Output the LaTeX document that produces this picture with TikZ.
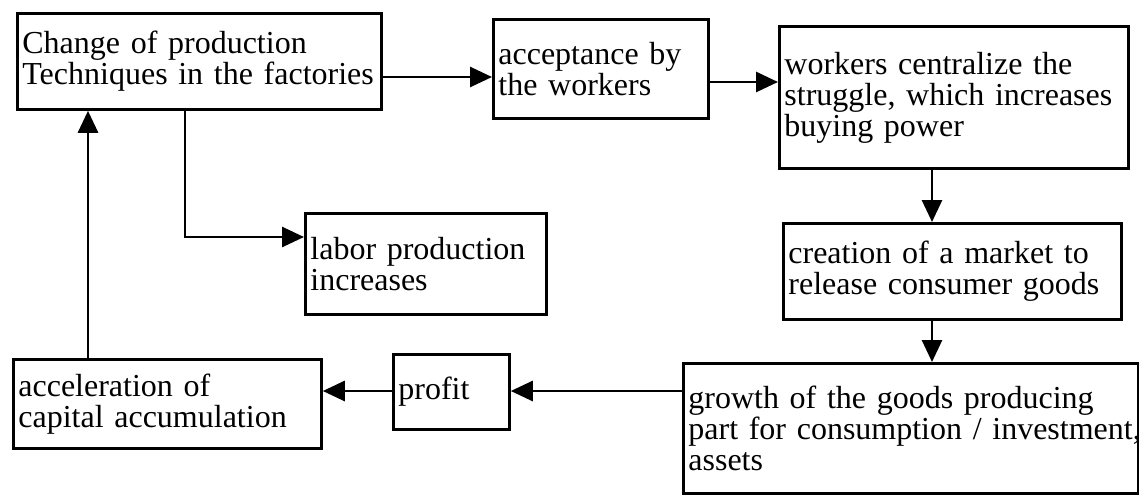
\documentclass[tikz,border=0pt]{standalone}
\usepackage{fontspec}
\setmainfont{Liberation Serif}
\usetikzlibrary{arrows.meta}

\begin{document}
\begin{tikzpicture}[
		x=1pt, y=-1pt,
		every node/.style={draw, rectangle, line width=2.8pt, anchor=north west, align=left, inner xsep=5pt, inner ysep=0pt, font=\fontsize{32}{31}\selectfont},
		arr/.style={line width=2.8pt, -{Triangle[length=22pt,width=20pt]}}
		]
		\useasboundingbox (0,0) rectangle (1139,499);
		\node[text width=354pt, minimum height=96pt] (change) at (16,12) {Change of production\\Techniques in the factories};
		\node[text width=205pt, minimum height=99pt] (accept) at (492,18) {acceptance by\\the workers};
		\node[text width=339pt, minimum height=142pt] (central) at (778,25) {workers centralize the\\struggle, which increases\\buying power};
		\node[text width=328pt, minimum height=96pt] (market) at (782,222) {creation of a market to\\release consumer goods};
		\node[text width=445pt, minimum height=130pt] (growth) at (682,362) {growth of the goods producing\\\mbox{part for consumption / investment,}\\assets};
		\node[text width=231pt, minimum height=101pt] (labor) at (304,212) {labor production\\increases};
		\node[text width=106pt, minimum height=75pt] (profit) at (392,353) {profit};
		\node[text width=298pt, minimum height=89pt] (accel) at (12,358) {acceleration of\\capital accumulation};
		\draw[arr] (change.east |- 0,77) -- (accept.west |- 0,77);
		\draw[arr] (accept.east |- 0,82) -- (central.west |- 0,82);
		\draw[arr] (central.south -| 932,0) -- (market.north -| 932,0);
		\draw[arr] (market.south -| 932,0) -- (growth.north -| 932,0);
		\draw[arr] (growth.west |- 0,391) -- (profit.east |- 0,391);
		\draw[arr] (profit.west |- 0,391) -- (accel.east |- 0,391);
		\draw[arr] (accel.north -| 88,0) -- (change.south -| 88,0);
		\draw[arr] (change.south -| 185,0) |- (labor.west |- 0,237);
\end{tikzpicture}
\end{document}
